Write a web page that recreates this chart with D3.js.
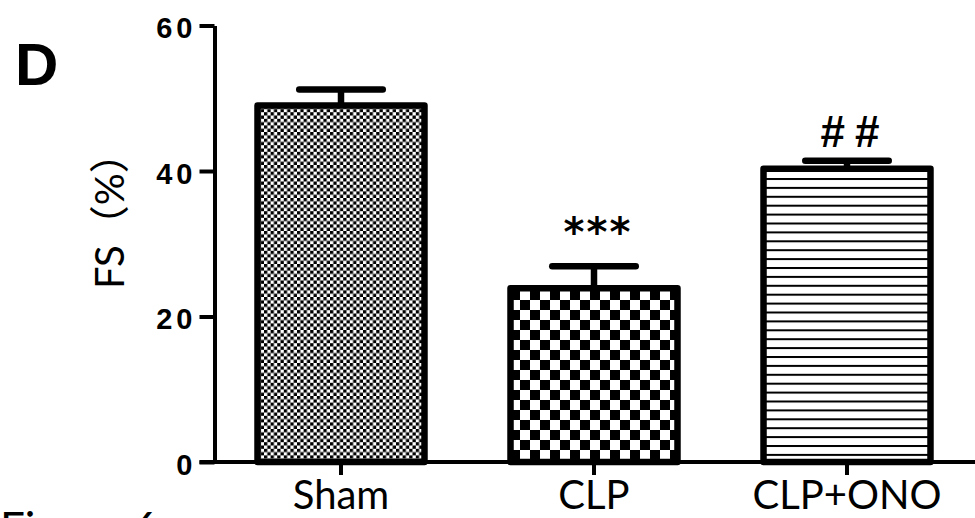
<!DOCTYPE html>
<html><head><meta charset="utf-8">
<script src="https://cdn.jsdelivr.net/npm/d3@7"></script>
<style>body{margin:0;background:#fff}svg{display:block}</style>
</head><body><svg id="c" width="975" height="518"></svg>
<script>
// ---- data ----
const categories = ["Sham", "CLP", "CLP+ONO"];
const means = [49.0, 23.9, 40.3];
const errors = [2.2, 3.0, 1.1];
const sigLabels = ["", "***", "##"];
const yTicks = [0, 20, 40, 60];
const yLabel = "FS（%）";
const panelLabel = "D";
const footerText = "Figure 6";

// ---- setup ----
const W = 975, H = 518;
const svg = d3.select("#c");
const x = d3.scaleBand().domain(categories).range([214.5, 973.5])
  .paddingInner(0.34).paddingOuter(0.17);
const y = d3.scaleLinear().domain([0, 60]).range([462, 25.5]);

// ---- patterns ----
const defs = svg.append("defs");
function checker(id, cell) {
  const p = defs.append("pattern").attr("id", id).attr("patternUnits", "userSpaceOnUse")
    .attr("width", cell * 2).attr("height", cell * 2);
  p.append("rect").attr("width", cell * 2).attr("height", cell * 2).attr("fill", "#fff");
  p.append("rect").attr("width", cell).attr("height", cell).attr("fill", "#000");
  p.append("rect").attr("x", cell).attr("y", cell).attr("width", cell).attr("height", cell).attr("fill", "#000");
}
checker("pat0", 3.3);
checker("pat1", 10);
{
  const p = defs.append("pattern").attr("id", "pat2").attr("patternUnits", "userSpaceOnUse")
    .attr("width", 10).attr("height", 8.9);
  p.append("rect").attr("width", 10).attr("height", 8.9).attr("fill", "#fff");
  p.append("rect").attr("y", 0).attr("width", 10).attr("height", 2).attr("fill", "#000");
}

const data = categories.map((c, i) => ({ c, m: means[i], e: errors[i], s: sigLabels[i], i }));

// ---- bars ----
svg.append("g").selectAll("rect").data(data).join("rect")
  .attr("x", d => x(d.c))
  .attr("y", d => y(d.m))
  .attr("width", x.bandwidth())
  .attr("height", d => y(0) - y(d.m))
  .attr("fill", d => `url(#pat${d.i})`)
  .attr("stroke", "#000").attr("stroke-width", 6.5).attr("stroke-linejoin", "round");

// ---- error bars ----
const capHalf = x.bandwidth() * 0.25;
const eb = svg.append("g").attr("stroke", "#000").attr("stroke-width", 6.5);
eb.selectAll("line.stem").data(data).join("line").attr("class", "stem")
  .attr("x1", d => x(d.c) + x.bandwidth() / 2).attr("x2", d => x(d.c) + x.bandwidth() / 2)
  .attr("y1", d => y(d.m)).attr("y2", d => y(d.m + d.e));
eb.selectAll("line.cap").data(data).join("line").attr("class", "cap")
  .attr("stroke-linecap", "round")
  .attr("x1", d => x(d.c) + x.bandwidth() / 2 - capHalf).attr("x2", d => x(d.c) + x.bandwidth() / 2 + capHalf)
  .attr("y1", d => y(d.m + d.e)).attr("y2", d => y(d.m + d.e));

// ---- significance ----
const sigStyle = {
  "***": { font: "bold 40px 'DejaVu Sans'", ls: 2, off: 20 },
  "##": { font: "bold 44px 'Liberation Sans'", ls: 10, off: 14 }
};
svg.append("g").selectAll("text").data(data.filter(d => d.s)).join("text")
  .attr("x", d => x(d.c) + x.bandwidth() / 2 + sigStyle[d.s].ls / 2 + 3)
  .attr("y", d => y(d.m + d.e) - sigStyle[d.s].off)
  .attr("text-anchor", "middle")
  .style("font", d => sigStyle[d.s].font)
  .style("letter-spacing", d => sigStyle[d.s].ls + "px")
  .text(d => d.s);

// ---- y axis ----
const gy = svg.append("g").attr("transform", `translate(${x.range()[0]},0)`)
  .call(d3.axisLeft(y).tickValues(yTicks).tickSize(15).tickSizeOuter(0).tickPadding(3));
gy.select(".domain").attr("stroke-width", 4);
gy.selectAll(".tick line").attr("stroke-width", 4);
gy.selectAll(".tick text").attr("dy", "0.42em").attr("fill", "#000")
  .style("font", "bold 29px 'Liberation Sans'").style("letter-spacing", "4px");

// ---- x axis ----
const gx = svg.append("g").attr("transform", `translate(0,${y(0)})`)
  .call(d3.axisBottom(x).tickSize(13).tickSizeOuter(0).tickPadding(0));
gx.select(".domain").remove();
gx.append("line").attr("x1", x.range()[0] - 15).attr("x2", W)
  .attr("stroke", "#000").attr("stroke-width", 4);
gx.selectAll(".tick line").attr("stroke-width", 4);
gx.selectAll(".tick text").attr("y", 47).attr("dy", 0).attr("fill", "#000")
  .style("font", "40px Lato");

// ---- labels ----
svg.append("text").attr("transform", "translate(124,289) rotate(-90)")
  .attr("text-anchor", "start").style("font", "40px Lato, 'Noto Sans CJK SC'")
  .text(yLabel);
svg.append("text").attr("x", 15).attr("y", 85)
  .style("font", "bold 60px 'Liberation Sans'").text(panelLabel);
svg.append("text").attr("x", 0).attr("y", 544)
  .style("font", "44px Lato").text(footerText);
</script></body></html>
